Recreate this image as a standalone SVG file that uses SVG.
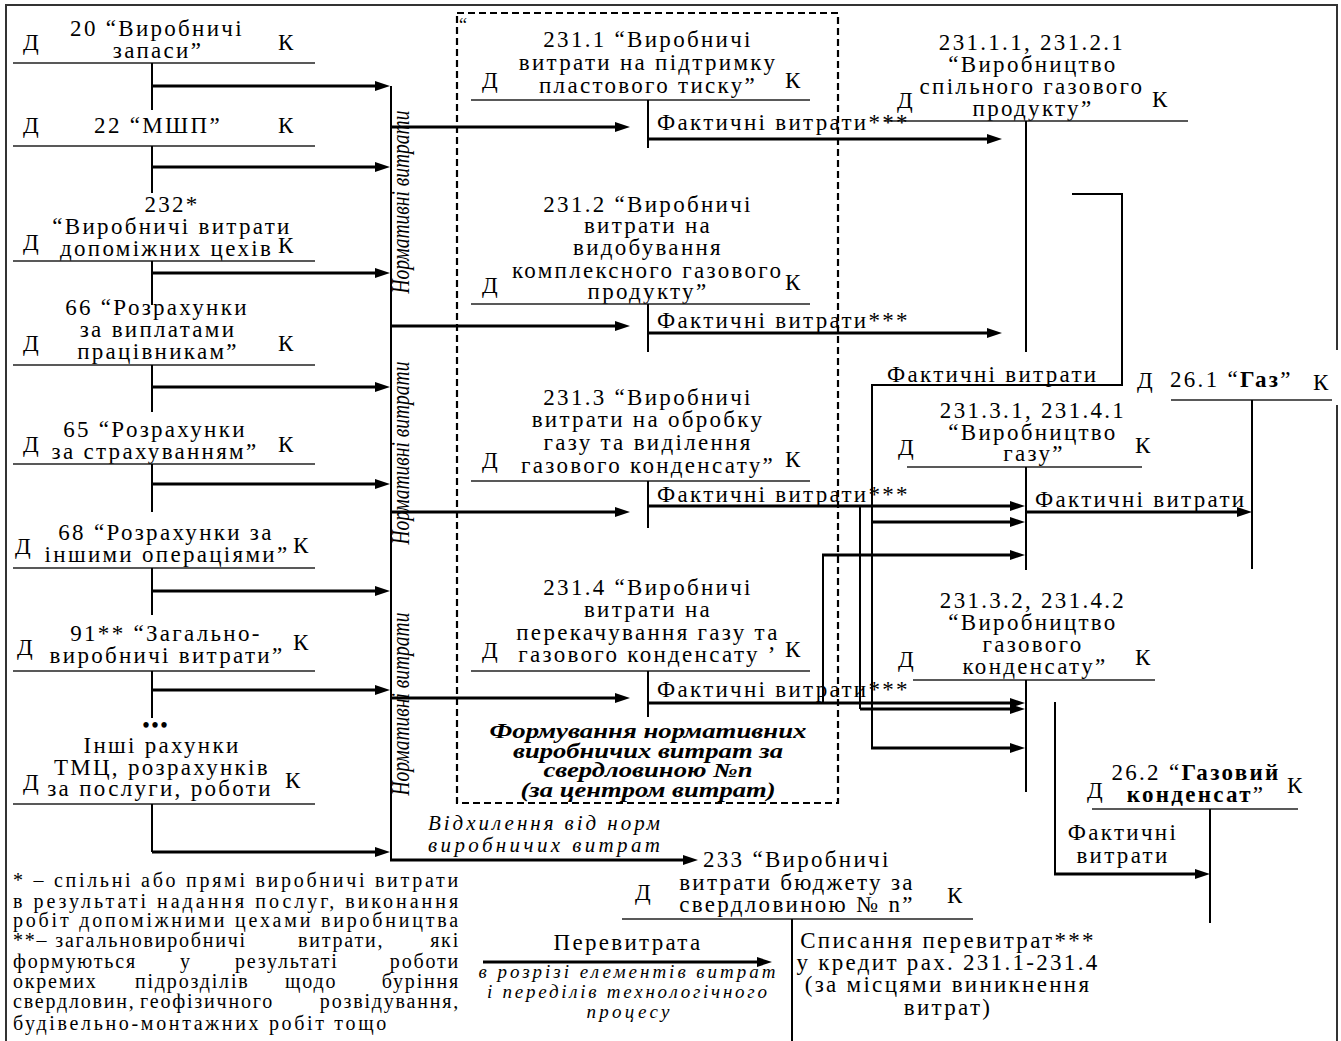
<svg xmlns="http://www.w3.org/2000/svg" width="1341" height="1041" viewBox="0 0 1341 1041">
<defs>
<marker id="ah" markerUnits="userSpaceOnUse" markerWidth="16" markerHeight="11" refX="7" refY="5" orient="auto"><path d="M0,0 L15,5 L0,10 z" fill="#000"/></marker>
<clipPath id="clip232"><rect x="0" y="236" width="271" height="30"/></clipPath>
<clipPath id="clip2312"><rect x="460" y="258" width="324" height="30"/></clipPath>
</defs>
<style>
text{font-family:"Liberation Serif","Times New Roman",serif;fill:#000}
.t{font-size:23px;letter-spacing:2.3px}
.c{text-anchor:middle}
.dk{font-size:23px}
.fn{font-size:20px;letter-spacing:1.8px}
.it{font-style:italic}
.b{font-weight:bold}
.h{stroke:#222;stroke-width:1.6;fill:none}
.v{stroke:#000;stroke-width:2;fill:none}
.a{stroke:#000;stroke-width:3;fill:none;marker-end:url(#ah)}
.a2{stroke:#000;stroke-width:2;fill:none}
.dash{stroke:#000;stroke-width:2.2;fill:none;stroke-dasharray:7,4}
.brd{stroke:#333;stroke-width:2;fill:none}
</style>
<rect x="0" y="0" width="1341" height="1041" fill="#fff"/>
<path class="brd" d="M6,1041 V5 H1337 V350 M1337,405 V1041"/>

<g id="acc20">
<text class="t c" x="157" y="36">20 “Виробничі</text>
<text class="t c" x="158" y="58">запаси”</text>
<text class="dk" x="23" y="50">Д</text>
<text class="dk" x="278" y="50">К</text>
<path class="h" d="M13,63 H315"/>
<path class="v" d="M152,63 V110"/>
</g>
<g id="acc22">
<text class="t c" x="158" y="133">22 “МШП”</text>
<text class="dk" x="23" y="133">Д</text>
<text class="dk" x="278" y="133">К</text>
<path class="h" d="M13,146 H315"/>
<path class="v" d="M152,146 V193"/>
</g>
<g id="acc232">
<text class="t c" x="172" y="212">232*</text>
<text class="t c" x="172" y="234">“Виробничі витрати</text>
<text class="t" x="60" y="256" clip-path="url(#clip232)">допоміжних цехів</text>
<text class="dk" x="23" y="250">Д</text>
<text class="dk" x="278" y="253">К</text>
<path class="h" d="M13,261 H315"/>
<path class="v" d="M152,261 V305"/>
</g>
<g id="acc66">
<text class="t c" x="157" y="315">66 “Розрахунки</text>
<text class="t c" x="158" y="337">за виплатами</text>
<text class="t c" x="158" y="359">працівникам”</text>
<text class="dk" x="23" y="351">Д</text>
<text class="dk" x="278" y="351">К</text>
<path class="h" d="M13,365 H315"/>
<path class="v" d="M152,365 V412"/>
</g>
<g id="acc65">
<text class="t c" x="155" y="437">65 “Розрахунки</text>
<text class="t c" x="155" y="459">за страхуванням”</text>
<text class="dk" x="23" y="452">Д</text>
<text class="dk" x="278" y="452">К</text>
<path class="h" d="M13,464 H315"/>
<path class="v" d="M152,464 V512"/>
</g>
<g id="acc68">
<text class="t c" x="166" y="540">68 “Розрахунки за</text>
<text class="t c" x="167" y="562">іншими операціями”</text>
<text class="dk" x="15" y="554">Д</text>
<text class="dk" x="293" y="553">К</text>
<path class="h" d="M13,568 H315"/>
<path class="v" d="M152,568 V615"/>
</g>
<g id="acc91">
<text class="t c" x="166" y="641">91** “Загально-</text>
<text class="t c" x="167" y="663">виробничі витрати”</text>
<text class="dk" x="17" y="655">Д</text>
<text class="dk" x="293" y="650">К</text>
<path class="h" d="M13,671 H315"/>
<path class="v" d="M152,671 V718"/>
</g>
<g id="accOther">
<text class="b c" x="156" y="732" style="font-size:20px;letter-spacing:2px">•••</text>
<text class="t c" x="162" y="753">Інші рахунки</text>
<text class="t c" x="162" y="775">ТМЦ, розрахунків</text>
<text class="t c" x="160" y="796">за послуги, роботи</text>
<text class="dk" x="23" y="790">Д</text>
<text class="dk" x="285" y="788">К</text>
<path class="h" d="M13,804 H315"/>
<path class="v" d="M152,804 V852"/>
</g>

<g id="normLabels">
<text class="it c" transform="translate(409,202) rotate(-90)" style="font-size:25px" textLength="183" lengthAdjust="spacingAndGlyphs">Нормативні витрати</text>
<text class="it c" transform="translate(409,453) rotate(-90)" style="font-size:25px" textLength="183" lengthAdjust="spacingAndGlyphs">Нормативні витрати</text>
<text class="it c" transform="translate(409,704) rotate(-90)" style="font-size:25px" textLength="183" lengthAdjust="spacingAndGlyphs">Нормативні витрати</text>
</g>

<g id="costCenter">
<rect class="dash" x="457" y="13" width="381" height="790"/>
<text x="459" y="31" style="font-size:18px">“</text>
<text class="it b c" x="648" y="738" style="font-size:20px" textLength="317" lengthAdjust="spacingAndGlyphs">Формування нормативних</text>
<text class="it b c" x="648" y="758" style="font-size:20px" textLength="270" lengthAdjust="spacingAndGlyphs">виробничих витрат за</text>
<text class="it b c" x="648" y="777" style="font-size:20px" textLength="209" lengthAdjust="spacingAndGlyphs">свердловиною №п</text>
<text class="it b c" x="648" y="797" style="font-size:20px" textLength="255" lengthAdjust="spacingAndGlyphs">(за центром витрат)</text>
</g>

<g id="acc2311">
<text class="t c" x="648" y="47">231.1 “Виробничі</text>
<text class="t c" x="648" y="70">витрати на підтримку</text>
<text class="t c" x="648" y="93">пластового тиску”</text>
<text class="dk" x="482" y="88">Д</text>
<text class="dk" x="785" y="88">К</text>
<path class="h" d="M471,100 H810"/>
<path class="v" d="M648,100 V148"/>
</g>
<g id="acc2312">
<text class="t c" x="648" y="212">231.2 “Виробничі</text>
<text class="t c" x="648" y="233">витрати на</text>
<text class="t c" x="648" y="255">видобування</text>
<text class="t" x="512" y="278" clip-path="url(#clip2312)">комплексного газового</text>
<text class="t c" x="648" y="299">продукту”</text>
<text class="dk" x="482" y="293">Д</text>
<text class="dk" x="785" y="290">К</text>
<path class="h" d="M471,304 H810"/>
<path class="v" d="M648,304 V352"/>
</g>
<g id="acc2313">
<text class="t c" x="648" y="405">231.3 “Виробничі</text>
<text class="t c" x="648" y="427">витрати на обробку</text>
<text class="t c" x="648" y="450">газу та виділення</text>
<text class="t c" x="648" y="473">газового конденсату”</text>
<text class="dk" x="482" y="468">Д</text>
<text class="dk" x="785" y="467">К</text>
<path class="h" d="M471,481 H810"/>
<path class="v" d="M648,481 V528"/>
</g>
<g id="acc2314">
<text class="t c" x="648" y="595">231.4 “Виробничі</text>
<text class="t c" x="648" y="617">витрати на</text>
<text class="t c" x="648" y="640">перекачування газу та</text>
<text class="t c" x="648" y="662">газового конденсату ’</text>
<text class="dk" x="482" y="658">Д</text>
<text class="dk" x="785" y="657">К</text>
<path class="h" d="M471,671 H810"/>
<path class="v" d="M648,671 V717"/>
</g>

<g id="acc23111">
<text class="t c" x="1032" y="50">231.1.1, 231.2.1</text>
<text class="t c" x="1033" y="72">“Виробництво</text>
<text class="t c" x="1032" y="94">спільного газового</text>
<text class="t c" x="1033" y="116">продукту”</text>
<text class="dk" x="897" y="108">Д</text>
<text class="dk" x="1152" y="107">К</text>
<path class="h" d="M885,121 H1188"/>
<path class="v" d="M1026,121 V352"/>
</g>
<g id="acc23131">
<text class="t c" x="1033" y="418">231.3.1, 231.4.1</text>
<text class="t c" x="1033" y="440">“Виробництво</text>
<text class="t c" x="1034" y="461">газу”</text>
<text class="dk" x="898" y="455">Д</text>
<text class="dk" x="1135" y="453">К</text>
<path class="h" d="M907,467 H1142"/>
<path class="v" d="M1026,467 V570"/>
</g>
<g id="acc261">
<text class="dk" x="1137" y="388">Д</text>
<text class="t" x="1170" y="387">26.1 “<tspan class="b">Газ</tspan>”</text>
<text class="dk" x="1313" y="390">К</text>
<path class="h" d="M1171,400 H1332"/>
<path class="v" d="M1252,400 V569"/>
</g>
<g id="acc23132">
<text class="t c" x="1033" y="608">231.3.2, 231.4.2</text>
<text class="t c" x="1033" y="630">“Виробництво</text>
<text class="t c" x="1033" y="652">газового</text>
<text class="t c" x="1035" y="674">конденсату”</text>
<text class="dk" x="898" y="667">Д</text>
<text class="dk" x="1135" y="665">К</text>
<path class="h" d="M913,680 H1155"/>
<path class="v" d="M1026,680 V792"/>
</g>
<g id="acc262">
<text class="t c" x="1196" y="780">26.2 “<tspan class="b">Газовий</tspan></text>
<text class="t c" x="1196" y="802"><tspan class="b">конденсат</tspan>”</text>
<text class="dk" x="1087" y="798">Д</text>
<text class="dk" x="1287" y="793">К</text>
<path class="h" d="M1092,809 H1298"/>
<path class="v" d="M1210,809 V923"/>
</g>
<g id="acc233">
<text class="t" x="703" y="867">233 “Виробничі</text>
<text class="t c" x="797" y="890">витрати бюджету за</text>
<text class="t c" x="797" y="912">свердловиною № n”</text>
<text class="dk" x="635" y="900">Д</text>
<text class="dk" x="947" y="903">К</text>
<path class="h" d="M622,919 H973"/>
<path class="v" d="M792,919 V1041"/>
</g>
<g id="overspend">
<text class="t c" x="628" y="950">Перевитрата</text>
<text class="it c" x="627" y="978" style="font-size:19px" textLength="297" lengthAdjust="spacing">в розрізі елементів витрат</text>
<text class="it c" x="627" y="998" style="font-size:19px" textLength="280" lengthAdjust="spacing">і переділів технологічного</text>
<text class="it c" x="628" y="1018" style="font-size:19px" textLength="83" lengthAdjust="spacing">процесу</text>
</g>
<g id="writeoff">
<text class="t c" x="948" y="948">Списання перевитрат***</text>
<text class="t c" x="948" y="970">у кредит рах. 231.1-231.4</text>
<text class="t c" x="948" y="992">(за місцями виникнення</text>
<text class="t c" x="948" y="1015">витрат)</text>
</g>
<g id="footnote">
<text class="fn" x="13" y="887" textLength="447" lengthAdjust="spacing">* – спільні або прямі виробничі витрати</text>
<text class="fn" x="13" y="908" textLength="447" lengthAdjust="spacing">в результаті надання послуг, виконання</text>
<text class="fn" x="13" y="927" textLength="447" lengthAdjust="spacing">робіт допоміжними цехами виробництва</text>
<text class="fn" x="13" y="947">**– загальновиробничі</text>
<text class="fn" x="298" y="947">витрати,</text>
<text class="fn" x="460" y="947" text-anchor="end">які</text>
<text class="fn" x="13" y="968">формуються</text>
<text class="fn" x="180" y="968">у</text>
<text class="fn" x="235" y="968">результаті</text>
<text class="fn" x="460" y="968" text-anchor="end">роботи</text>
<text class="fn" x="13" y="988">окремих</text>
<text class="fn" x="135" y="988">підрозділів</text>
<text class="fn" x="285" y="988">щодо</text>
<text class="fn" x="460" y="988" text-anchor="end">буріння</text>
<text class="fn" x="13" y="1008">свердловин,</text>
<text class="fn" x="140" y="1008">геофізичного</text>
<text class="fn" x="460" y="1008" text-anchor="end">розвідування,</text>
<text class="fn" x="13" y="1030" textLength="375" lengthAdjust="spacing">будівельно-монтажних робіт тощо</text>
</g>

<g id="connectors">
<path class="a" d="M152,86 H382"/>
<path class="a" d="M152,167 H382"/>
<path class="a" d="M152,273 H382"/>
<path class="a" d="M152,387 H382"/>
<path class="a" d="M152,484 H382"/>
<path class="a" d="M152,591 H382"/>
<path class="a" d="M152,690 H382"/>
<path class="a" d="M152,852 H382"/>
<path class="a2" d="M391,86 V860"/>
<path class="a" d="M390,860 H690"/>
<path class="a" d="M391,127 H622"/>
<path class="a" d="M391,326 H622"/>
<path class="a" d="M391,512 H622"/>
<path class="a" d="M391,698 H622"/>
<path class="a" d="M648,139 H994"/>
<path class="a" d="M648,333 H994"/>
<path class="a" d="M648,506 H1017"/>
<path class="a" d="M648,703 H1017"/>
<path class="a2" d="M860,506 V709"/>
<path class="a" d="M860,709 H1017"/>
<path class="a2" d="M1072,194 H1122 V385 H872 V748"/>
<path class="a" d="M872,522 H1017"/>
<path class="a" d="M871,748 H1017"/>
<path class="a2" d="M823,703 V555"/>
<path class="a" d="M822,555 H1017"/>
<path class="a" d="M1026,512 H1244"/>
<path class="a2" d="M1055,702 V874"/>
<path class="a" d="M1054,874 H1202"/>
<path class="a" d="M483,962 H764"/>
<text class="t" x="657" y="130">Фактичні витрати***</text>
<text class="t" x="657" y="328">Фактичні витрати***</text>
<text class="t" x="657" y="502">Фактичні витрати***</text>
<text class="t" x="657" y="697">Фактичні витрати***</text>
<text class="t" x="887" y="382">Фактичні витрати</text>
<text class="t" x="1035" y="507">Фактичні витрати</text>
<text class="t c" x="1123" y="840">Фактичні</text>
<text class="t c" x="1123" y="863">витрати</text>
<text class="it" x="428" y="830" style="font-size:21px" textLength="232" lengthAdjust="spacing">Відхилення від норм</text>
<text class="it" x="428" y="852" style="font-size:21px" textLength="232" lengthAdjust="spacing">виробничих витрат</text>
</g>
</svg>
